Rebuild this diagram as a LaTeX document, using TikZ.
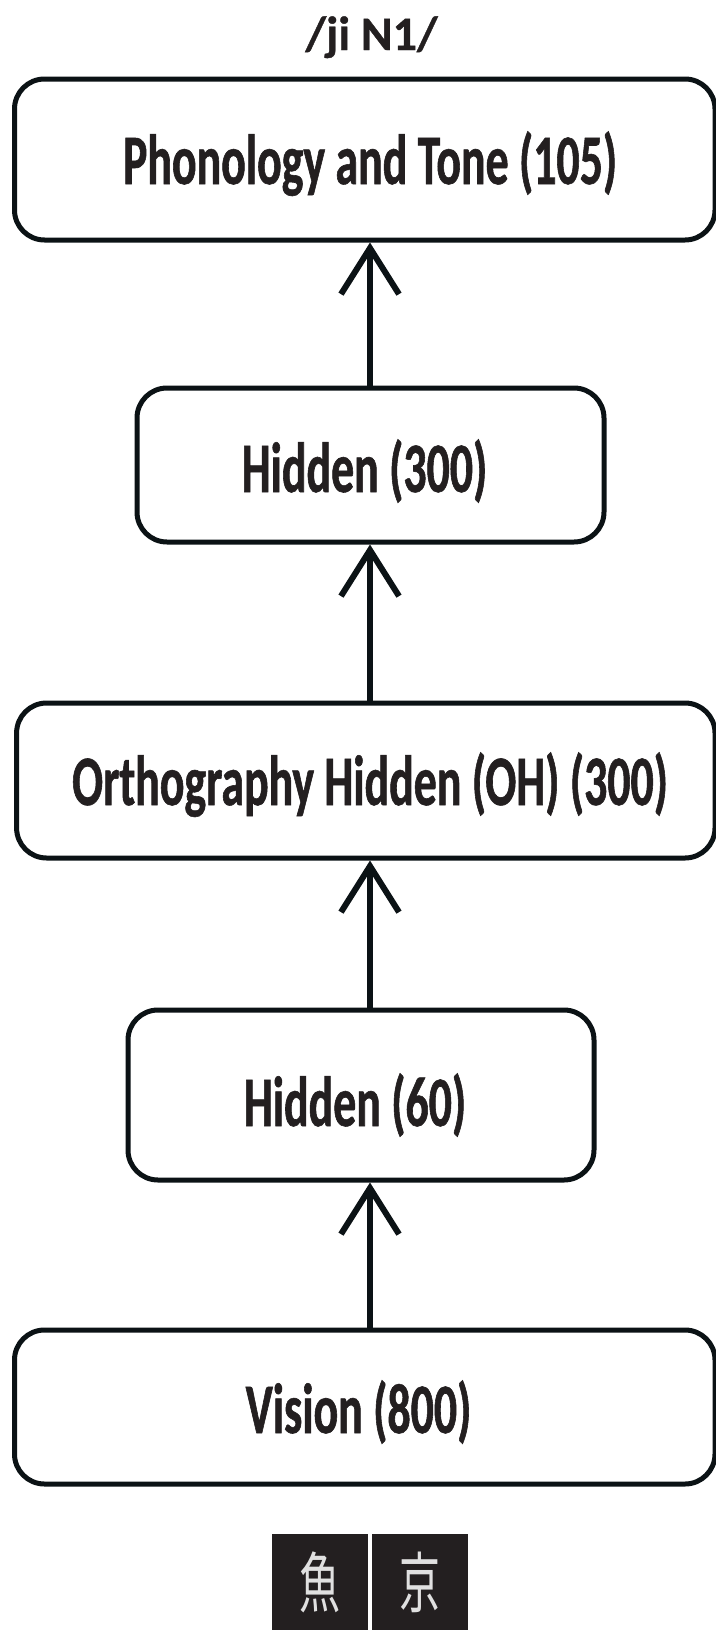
\documentclass[tikz,border=0pt]{standalone}
\usepackage{fontspec}
\usetikzlibrary{arrows.meta}
\newfontfamily\lblfont[FakeStretch=0.645, FakeBold=0.8]{Carlito}
\newfontfamily\toplblfont[FakeBold=0.8]{Carlito}
\newfontfamily\cjkfont[FakeStretch=0.62]{Noto Sans CJK JP}
\definecolor{ink}{HTML}{231F20}
\definecolor{edge}{HTML}{0B1215}
\definecolor{tilebg}{HTML}{231F20}
\definecolor{glyph}{HTML}{E0E0E0}
\begin{document}
\begin{tikzpicture}[x=1pt,y=-1pt,
  box/.style={draw=edge, line width=5pt, rounded corners=30pt, inner sep=0pt, fill=white},
  lbl/.style={anchor=base, inner sep=0pt, text=ink, font=\lblfont\bfseries\fontsize{71}{80}\selectfont},
  toplbl/.style={anchor=base, inner sep=0pt, text=ink, font=\toplblfont\bfseries\fontsize{48}{54}\selectfont},
  arr/.style={draw=edge, line width=6pt, -{Straight Barb[length=46pt, width=58pt]}},
  tilebox/.style={fill=tilebg, inner sep=0pt, minimum width=96pt, minimum height=96pt, text=glyph, font=\cjkfont\fontsize{66}{70}\selectfont}
]
\useasboundingbox (0,0) rectangle (715,1630);
% title
\node[toplbl] (title) at (371.5,50) {/ji N1/};
% boxes
\node[box, minimum width=700.5pt, minimum height=161pt] (b1) at (364.75,159.5) {};
\node[box, minimum width=467pt, minimum height=154pt] (b2) at (370.5,465) {};
\node[box, minimum width=698.4pt, minimum height=155pt] (b3) at (365.8,780.5) {};
\node[box, minimum width=466pt, minimum height=170pt] (b4) at (361,1095) {};
\node[box, minimum width=700.5pt, minimum height=154pt] (b5) at (364.75,1407) {};
% labels
\node[lbl] (t1) at (370,184) {Phonology and Tone (105)};
\node[lbl] (t2) at (364.5,492) {Hidden (300)};
\node[lbl] (t3) at (370,805) {Orthography Hidden (OH) (300)};
\node[lbl] (t4) at (355,1126) {Hidden (60)};
\node[lbl] (t5) at (358.5,1433) {Vision (800)};
% arrows
\coordinate (ax) at (370,0);
\draw[arr] (b2.north -| ax) -- (b1.south -| ax);
\draw[arr] (b3.north -| ax) -- (b2.south -| ax);
\draw[arr] (b4.north -| ax) -- (b3.south -| ax);
\draw[arr] (b5.north -| ax) -- (b4.south -| ax);
% character tiles
\node[tilebox] (c1) at (320,1582) {魚};
\node[tilebox] (c2) at (419.5,1582) {京};
\end{tikzpicture}
\end{document}
